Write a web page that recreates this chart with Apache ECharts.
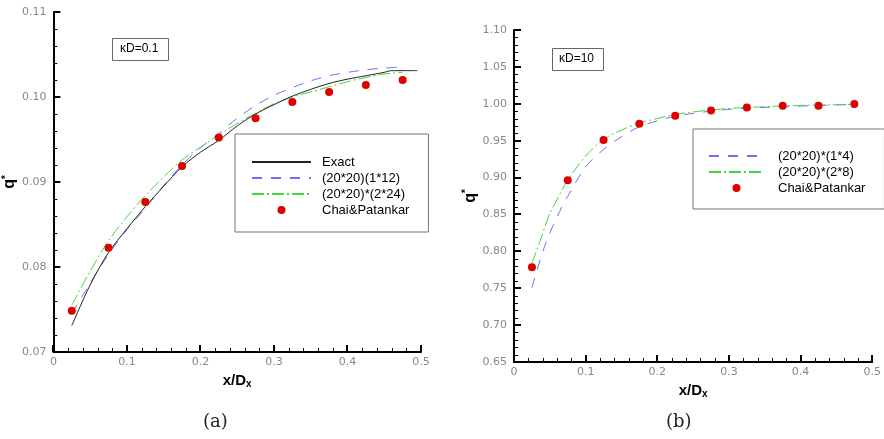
<!DOCTYPE html>
<html>
<head>
<meta charset="utf-8">
<script src="https://cdn.jsdelivr.net/npm/echarts@6/dist/echarts.min.js"></script>
<style>html,body{margin:0;padding:0;background:#fff}#c{width:884px;height:439px}</style>
</head>
<body>
<div id="c"></div>
<script>
// ---------- Panel (a): kD = 0.1 ----------
const aExactX = [0.025,0.05,0.075,0.1,0.125,0.15,0.175,0.2,0.225,0.25,0.275,0.3,0.325,0.35,0.375,0.4,0.425,0.45,0.46,0.495];
const aExactY = [0.0731,0.0779,0.0817,0.0845,0.0871,0.0895,0.0918,0.0935,0.0949,0.0966,0.0980,0.0991,0.1001,0.1009,0.1016,0.1021,0.1025,0.1029,0.1031,0.1031];
const aB12X = [0.025,0.05,0.075,0.1,0.125,0.15,0.175,0.2,0.225,0.25,0.275,0.3,0.325,0.35,0.375,0.4,0.425,0.45,0.47];
const aB12Y = [0.0745,0.0781,0.0815,0.0844,0.0869,0.0896,0.0920,0.0940,0.0957,0.0975,0.0990,0.1002,0.1011,0.1019,0.1025,0.1029,0.1032,0.1034,0.1035];
const aG24X = [0.025,0.05,0.075,0.1,0.125,0.15,0.175,0.2,0.225,0.25,0.275,0.3,0.325,0.35,0.375,0.4,0.425,0.45,0.475];
const aG24Y = [0.0755,0.0795,0.0831,0.0859,0.0884,0.0906,0.0926,0.0941,0.0955,0.0969,0.0981,0.0992,0.1000,0.1006,0.1012,0.1018,0.1023,0.1027,0.1029];
const aChaiX = [0.025,0.075,0.125,0.175,0.225,0.275,0.325,0.375,0.425,0.475];
const aChaiY = [0.07486,0.08227,0.08765,0.09188,0.09525,0.09749,0.09941,0.10059,0.10141,0.1020];

// ---------- Panel (b): kD = 10 ----------
const bB4X = [0.025,0.045,0.068,0.075,0.1,0.125,0.15,0.175,0.2,0.225,0.25,0.275,0.3,0.35,0.4,0.475];
const bB4Y = [0.7509,0.8128,0.8626,0.8745,0.9146,0.9380,0.9553,0.9689,0.9770,0.9833,0.9870,0.9900,0.9924,0.9951,0.9969,0.9992];
const bG8X = [0.025,0.04,0.05,0.06,0.075,0.1,0.125,0.15,0.175,0.2,0.225,0.25,0.275,0.3,0.35,0.4,0.475];
const bG8Y = [0.7834,0.8241,0.8513,0.8700,0.8965,0.9290,0.9517,0.9643,0.9743,0.9800,0.9856,0.9890,0.9915,0.9937,0.9960,0.9978,0.9992];
const bChaiX = [0.025,0.075,0.125,0.175,0.225,0.275,0.325,0.375,0.425,0.475];
const bChaiY = [0.7784,0.8965,0.9508,0.9729,0.9838,0.9910,0.9951,0.9974,0.9974,0.9996];

// ---------- Axis ranges ----------
const xRange = [0, 0.5], xMajorStep = 0.1, xMinorDiv = 5;
const aYRange = [0.07, 0.11], aYMajorStep = 0.01;
const bYRange = [0.65, 1.10], bYMajorStep = 0.05;
const yMinorDiv = 5;

const pairs = (xs, ys) => xs.map((x, i) => [x, ys[i]]);

// tick list: [value, kind(0 = x tick, 1 = y tick), major(1/0)]
function tickList(xr, xStep, yr, yStep) {
  const out = [];
  const nx = Math.round((xr[1] - xr[0]) / xStep) * xMinorDiv;
  for (let i = 0; i <= nx; i++) out.push([xr[0] + i * xStep / xMinorDiv, 0, i % xMinorDiv === 0 ? 1 : 0]);
  const ny = Math.round((yr[1] - yr[0]) / yStep) * yMinorDiv;
  for (let i = 0; i <= ny; i++) out.push([yr[0] + i * yStep / yMinorDiv, 1, i % yMinorDiv === 0 ? 1 : 0]);
  return out;
}
function tickSeries(idx, yr) {
  return {
    type: 'custom', xAxisIndex: idx, yAxisIndex: idx, silent: true, clip: false, z: 20,
    data: tickList(xRange, xMajorStep, yr, idx === 0 ? aYMajorStep : bYMajorStep),
    renderItem: function (params, api) {
      const v = api.value(0), kind = api.value(1), major = api.value(2) === 1;
      const len = major ? 7 : 4, w = major ? 2 : 1, off = major ? 0 : 0.5;
      if (kind === 0) {
        const p = api.coord([v, yr[0]]);
        const x = Math.round(p[0]) + off;
        return { type: 'line', shape: { x1: x, y1: p[1], x2: x, y2: p[1] - len }, style: { stroke: '#000', lineWidth: w } };
      }
      const p = api.coord([xRange[0], v]);
      const y = Math.round(p[1]) + off;
      return { type: 'line', shape: { x1: p[0], y1: y, x2: p[0] + len, y2: y }, style: { stroke: '#000', lineWidth: w } };
    }
  };
}

const tickFont = 'DejaVu Sans';
function xAxisCfg(grid) {
  return {
    type: 'value', gridIndex: grid, min: xRange[0], max: xRange[1], interval: xMajorStep,
    name: 'x/D{s|x}', nameLocation: 'middle', nameGap: 14,
    nameTextStyle: { fontFamily: 'Liberation Sans', fontWeight: 'bold', fontSize: 15, color: '#000',
      rich: { s: { fontFamily: 'Liberation Sans', fontWeight: 'bold', fontSize: 10, verticalAlign: 'bottom', padding: [8,0,0,0] } } },
    axisLine: { lineStyle: { color: '#000', width: 2 } },
    axisTick: { show: false },
    splitLine: { show: false },
    axisLabel: { color: '#888', fontFamily: tickFont, fontSize: 11, margin: 5,
      formatter: v => (Math.abs(v) < 1e-9 ? '0' : v.toFixed(1)) }
  };
}
function yAxisCfg(grid, yr, interval, gap) {
  return {
    type: 'value', gridIndex: grid, min: yr[0], max: yr[1], interval: interval,
    name: 'q{s|*}', nameLocation: 'middle', nameGap: gap, nameRotate: 90,
    nameTextStyle: { fontFamily: 'Liberation Sans', fontWeight: 'bold', fontSize: 16, color: '#000',
      rich: { s: { fontFamily: 'Liberation Sans', fontWeight: 'bold', fontSize: 10, verticalAlign: 'top', padding: [0,0,8,0] } } },
    axisLine: { show: true, lineStyle: { color: '#000', width: 2 } },
    axisTick: { show: false },
    splitLine: { show: false },
    axisLabel: { color: '#888', fontFamily: tickFont, fontSize: 11, margin: 7,
      formatter: v => v.toFixed(2) }
  };
}

const blue = '#6f6ff5', green = '#3fd83f', red = '#dd0000', black = '#222';
const blueDash = [10, 9];
const greenDash = [12, 3, 2, 3];
const noSym = { opacity: 0 };

const chart = echarts.init(document.getElementById('c'));
chart.setOption({
  animation: false,
  backgroundColor: '#fff',
  grid: [
    { left: 50, top: 12, width: 371, height: 340 },
    { left: 514, top: 30, width: 362, height: 332 }
  ],
  xAxis: [xAxisCfg(0), xAxisCfg(1)],
  yAxis: [yAxisCfg(0, aYRange, aYMajorStep, 27), yAxisCfg(1, bYRange, bYMajorStep, 33)],
  legend: [
    {
      orient: 'vertical', left: 235, top: 134,
      padding: [20, 19, 14, 16], itemGap: 0, itemWidth: 59, itemHeight: 8,
      borderColor: '#777', borderWidth: 1, backgroundColor: '#fff',
      textStyle: { fontFamily: 'Liberation Sans', fontSize: 13, color: '#000', lineHeight: 16, padding: [0,0,0,6] },
      data: [{ name: 'Exact', itemStyle: noSym }, { name: '(20*20)(1*12)', itemStyle: noSym },
             { name: '(20*20)*(2*24)', itemStyle: noSym }, 'Chai&Patankar']
    },
    {
      orient: 'vertical', left: 693, top: 129,
      padding: [19, 19, 13, 15], itemGap: 0, itemWidth: 55, itemHeight: 8,
      borderColor: '#777', borderWidth: 1, backgroundColor: '#fff',
      textStyle: { fontFamily: 'Liberation Sans', fontSize: 13, color: '#000', lineHeight: 16, padding: [0,0,0,9] },
      data: [{ name: '(20*20)*(1*4)', itemStyle: noSym }, { name: '(20*20)*(2*8)', itemStyle: noSym }, 'Chai&Patankar']
    }
  ],
  graphic: [
    { type: 'rect', left: 112, top: 38, shape: { width: 56, height: 22 }, style: { fill: '#fff', stroke: '#666', lineWidth: 1 } },
    { type: 'text', left: 120, top: 43, style: { text: 'κD=0.1', font: '12px "Liberation Sans"', fill: '#000' } },
    { type: 'rect', left: 552, top: 48, shape: { width: 51, height: 22 }, style: { fill: '#fff', stroke: '#666', lineWidth: 1 } },
    { type: 'text', left: 559, top: 53, style: { text: 'κD=10', font: '12px "Liberation Sans"', fill: '#000' } },
    { type: 'text', left: 203, top: 413, style: { text: '(a)', font: '18px "DejaVu Serif"', fill: '#222' } },
    { type: 'text', left: 666, top: 413, style: { text: '(b)', font: '18px "DejaVu Serif"', fill: '#222' } }
  ],
  series: [
    tickSeries(0, aYRange),
    tickSeries(1, bYRange),
    { name: 'Exact', type: 'line', xAxisIndex: 0, yAxisIndex: 0, data: pairs(aExactX, aExactY), smooth: 0.3,
      symbol: 'none', lineStyle: { color: black, width: 1 }, itemStyle: { color: black }, z: 3 },
    { name: '(20*20)(1*12)', type: 'line', xAxisIndex: 0, yAxisIndex: 0, data: pairs(aB12X, aB12Y), smooth: 0.3,
      symbol: 'none', lineStyle: { color: blue, width: 1, type: blueDash }, itemStyle: { color: blue }, z: 2 },
    { name: '(20*20)*(2*24)', type: 'line', xAxisIndex: 0, yAxisIndex: 0, data: pairs(aG24X, aG24Y), smooth: 0.3,
      symbol: 'none', lineStyle: { color: green, width: 1, type: greenDash }, itemStyle: { color: green }, z: 2 },
    { name: 'Chai&Patankar', type: 'scatter', xAxisIndex: 0, yAxisIndex: 0, data: pairs(aChaiX, aChaiY),
      symbol: 'circle', symbolSize: 8, itemStyle: { color: red, opacity: 1 }, z: 4 },
    { name: '(20*20)*(1*4)', type: 'line', xAxisIndex: 1, yAxisIndex: 1, data: pairs(bB4X, bB4Y), smooth: 0.3,
      symbol: 'none', lineStyle: { color: blue, width: 1, type: blueDash }, itemStyle: { color: blue }, z: 2 },
    { name: '(20*20)*(2*8)', type: 'line', xAxisIndex: 1, yAxisIndex: 1, data: pairs(bG8X, bG8Y), smooth: 0.3,
      symbol: 'none', lineStyle: { color: green, width: 1, type: greenDash }, itemStyle: { color: green }, z: 2 },
    { name: 'Chai&Patankar', type: 'scatter', xAxisIndex: 1, yAxisIndex: 1, data: pairs(bChaiX, bChaiY),
      symbol: 'circle', symbolSize: 8, itemStyle: { color: red, opacity: 1 }, z: 4 }
  ]
});
</script>
</body>
</html>
